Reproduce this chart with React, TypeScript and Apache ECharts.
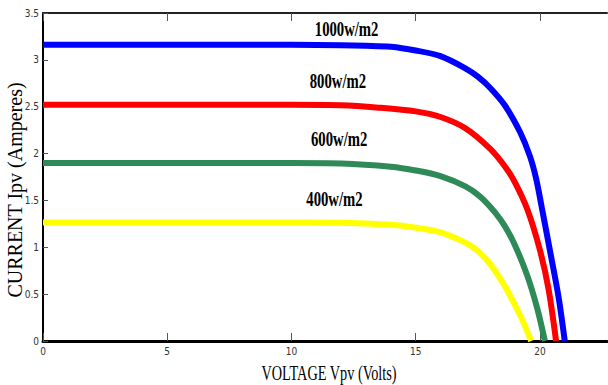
import React, { useEffect, useRef } from "react";
import * as echarts from "echarts";

// Irradiance levels and their curve colours
const irradianceNames = ["1000w/m2", "800w/m2", "600w/m2", "400w/m2"];
const curveColors = ["#0000ff", "#ff0000", "#2e8b57", "#ffff00"];

// I-V curve samples (voltage in V, current in A)
const volts1000 = [0, 5, 10, 12, 13, 14, 15, 16, 17, 17.5, 18, 18.6, 19.2, 19.6, 19.85, 20.1, 20.4, 20.75, 21.0];
const amps1000 = [3.16, 3.16, 3.16, 3.155, 3.15, 3.14, 3.1, 3.04, 2.91, 2.82, 2.7, 2.51, 2.23, 1.97, 1.73, 1.39, 0.97, 0.47, 0];

const volts800 = [0, 5, 10, 12, 13.5, 15, 16, 17, 18, 18.6, 19, 19.5, 20, 20.35, 20.65];
const amps800 = [2.52, 2.52, 2.52, 2.515, 2.49, 2.45, 2.39, 2.27, 2.05, 1.86, 1.69, 1.4, 0.97, 0.55, 0];

const volts600 = [0, 5, 10, 12, 14, 15, 16, 17, 17.6, 18.2, 18.6, 19.0, 19.5, 19.9, 20.2];
const amps600 = [1.9, 1.9, 1.9, 1.895, 1.86, 1.82, 1.76, 1.65, 1.54, 1.37, 1.22, 1.02, 0.69, 0.34, 0];

const volts400 = [0, 5, 10, 12, 14, 15, 16, 17, 17.5, 18, 18.6, 19.0, 19.3, 19.65];
const amps400 = [1.265, 1.265, 1.265, 1.262, 1.24, 1.21, 1.16, 1.05, 0.96, 0.82, 0.58, 0.38, 0.22, 0];

// Where each irradiance annotation sits, in data coordinates
const labelVolts = [12.22, 11.87, 11.92, 11.73];
const labelAmps = [3.33, 2.77, 2.15, 1.51];

// Axes
const xMin = 0;
const xMax = 22.7;
const xInterval = 5;
const xTickValues = [0, 5, 10, 15, 20];
const yMin = 0;
const yMax = 3.5;
const yInterval = 0.5;
const xTitle = "VOLTAGE Vpv (Volts)";
const yTitle = "CURRENT Ipv (Amperes)";

const voltSets = [volts1000, volts800, volts600, volts400];
const ampSets = [amps1000, amps800, amps600, amps400];

const tickFont = "'Liberation Sans Narrow', 'DejaVu Sans Condensed', 'Liberation Sans', sans-serif";
const serif = "'Liberation Serif', 'DejaVu Serif', serif";

export default function App() {
  const ref = useRef<HTMLDivElement>(null);

  useEffect(() => {
    if (!ref.current) return;
    const chart = echarts.init(ref.current, null, { renderer: "svg" });

    const series = voltSets.map((vs, i) => ({
      type: "line",
      name: irradianceNames[i],
      data: vs.map((v, k) => [v, ampSets[i][k]]),
      showSymbol: false,
      smooth: 0.3,
      clip: true,
      lineStyle: { color: curveColors[i], width: 6 },
      itemStyle: { color: curveColors[i] },
      z: 2,
    }));

    const baseX = {
      type: "value",
      min: xMin,
      max: xMax,
      interval: xInterval,
      splitLine: { show: false },
    };

    chart.setOption({
      animation: false,
      backgroundColor: "#ffffff",
      grid: { left: 43, top: 13, right: 1, bottom: 44, containLabel: false },
      xAxis: [
        {
          ...baseX,
          position: "bottom",
          axisLine: { show: true, onZero: false, lineStyle: { color: "#000", width: 3 } },
          axisTick: { show: true, inside: true, length: 8, customValues: xTickValues, lineStyle: { color: "#555", width: 1 } },
          axisLabel: { show: true, fontSize: 10, color: "#333", fontFamily: tickFont, margin: 5, customValues: xTickValues },
        },
        {
          ...baseX,
          position: "top",
          axisLine: { show: true, onZero: false, lineStyle: { color: "#222", width: 2 } },
          axisTick: { show: true, inside: true, length: 8, customValues: xTickValues, lineStyle: { color: "#555", width: 1 } },
          axisLabel: { show: false },
        },
      ],
      yAxis: {
        type: "value",
        min: yMin,
        max: yMax,
        interval: yInterval,
        splitLine: { show: false },
        axisLine: { show: true, onZero: false, lineStyle: { color: "#000", width: 2 } },
        axisTick: { show: true, inside: true, length: 5, lineStyle: { color: "#555", width: 1 } },
        axisLabel: { show: true, fontSize: 10, color: "#333", fontFamily: tickFont, margin: 4 },
      },
      series,
    });

    const labels = irradianceNames.map((name, i) => {
      const p = chart.convertToPixel({ gridIndex: 0 }, [labelVolts[i], labelAmps[i]]) as number[];
      return {
        type: "text",
        x: p[0],
        y: p[1],
        scaleX: 0.7,
        z: 10,
        style: {
          text: name,
          font: `bold 21px ${serif}`,
          fill: "#000",
          textAlign: "center",
          textVerticalAlign: "middle",
        },
      };
    });

    chart.setOption({
      graphic: [
        ...labels,
        {
          type: "text",
          x: 329,
          y: 372,
          scaleX: 0.65,
          z: 10,
          style: {
            text: xTitle,
            font: `22px ${serif}`,
            fill: "#000",
            textAlign: "center",
            textVerticalAlign: "middle",
          },
        },
        {
          type: "text",
          x: 15,
          y: 190,
          rotation: Math.PI / 2,
          z: 10,
          style: {
            text: yTitle,
            font: `20px ${serif}`,
            fill: "#000",
            textAlign: "center",
            textVerticalAlign: "middle",
          },
        },
      ],
    });

    return () => chart.dispose();
  }, []);

  return (
    <div
      ref={ref}
      style={{ position: "fixed", left: 0, top: 0, width: 608, height: 385, background: "#fff" }}
    />
  );
}
